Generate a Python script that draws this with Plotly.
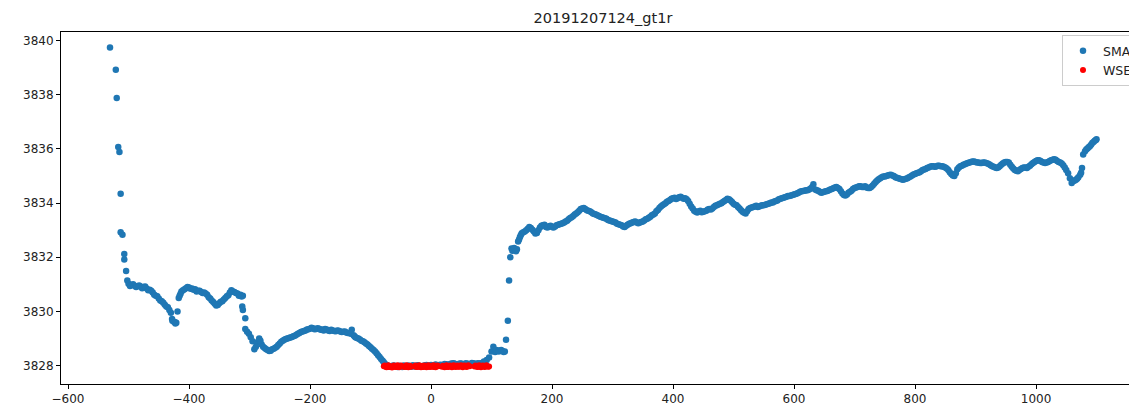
import plotly.graph_objects as go

TITLE = "20191207124_gt1r"

# SMA series, first pass of samples (along-track distance, elevation)
sma_x_a = [-530.6, -521, -519.5, -517, -515, -513, -513, -510, -507, -507, -504, -502,
           -500, -495, -490, -485, -480, -475, -470, -465, -460, -455, -450, -445, -440, -435,
           -430, -428, -425, -423, -421, -419,
           -417, -414, -410, -405, -400, -395, -390, -385, -380, -375, -370, -365, -360, -355,
           -350, -345, -340, -335, -330, -325, -320, -315, -311,
           -312, -311, -307, -307, -304, -301, -298, -295, -292, -288, -284, -280, -275, -270,
           -265, -260, -255, -250, -245, -240, -235, -230, -225, -220, -215, -210, -205, -200,
           -195, -190, -185, -180, -175, -170, -165, -160, -155, -150, -145, -140, -135, -131,
           -128, -125, -120, -115, -110, -105, -100, -95, -90, -85, -80, -76, -72,
           -70, -65, -60, -55, -50, -45, -40, -35, -30, -25, -20, -15, -10, -5, 0, 5, 10, 15,
           20, 25, 30, 35, 40, 45, 50, 55, 60, 65, 70, 75, 80, 85,
           88, 92, 96, 100, 103, 106, 110, 114, 118, 122, 124, 127, 129, 131, 133, 136, 139,
           142, 144, 147, 150, 155, 160, 165, 170, 175, 180, 185, 190, 195, 200, 205, 210, 215,
           220, 225, 230, 235, 240, 245, 250, 255, 260, 265, 270, 275, 280, 285, 290, 295, 300,
           305, 310, 315, 320, 325, 330, 335, 340, 345, 350, 355, 360, 365, 370, 375, 380, 385,
           390, 395, 400, 405, 410, 415, 420, 425, 430, 435, 440, 445, 450, 455, 460, 465, 470,
           475, 480, 485, 490, 495, 500, 505, 510, 515, 520, 525, 530, 535, 540, 545, 550, 555,
           560, 565, 570, 575, 580, 585, 590, 595, 600, 605, 610, 615, 620, 625, 630, 632, 635,
           640, 645, 650, 655, 660, 665, 670, 675, 680, 685, 690, 695, 700, 705, 710, 715, 720,
           725, 730, 735, 740, 745, 750, 755, 760, 765, 770, 775, 780, 785, 790, 795, 800, 805,
           810, 815, 820, 825, 830, 835, 840, 845, 850, 855, 860, 865, 870, 875, 880, 885, 890,
           895, 900, 905, 910, 915, 920, 925, 930, 935, 940, 945, 950, 955, 960, 965, 970, 975,
           980, 985, 990, 995, 1000, 1005, 1010, 1015, 1020, 1025, 1030, 1035, 1040, 1045, 1050,
           1053, 1056, 1059, 1062, 1066, 1070, 1073, 1076, 1078, 1081, 1085, 1089, 1093, 1097, 1100]
sma_y_a = [3839.75, 3838.93, 3837.88, 3836.07, 3835.89, 3834.35, 3832.92, 3832.83, 3832.12, 3831.92, 3831.49, 3831.14,
           3831.02, 3830.98, 3830.95, 3830.93, 3830.92, 3830.90, 3830.85, 3830.80, 3830.70, 3830.58, 3830.48, 3830.38, 3830.25, 3830.15,
           3829.95, 3829.72, 3829.62, 3829.60, 3829.58, 3830.00,
           3830.50, 3830.65, 3830.78, 3830.86, 3830.88, 3830.85, 3830.82, 3830.76, 3830.72, 3830.70, 3830.62, 3830.48, 3830.35, 3830.22,
           3830.30, 3830.38, 3830.50, 3830.60, 3830.78, 3830.72, 3830.66, 3830.62, 3830.58,
           3830.18, 3830.05, 3829.75, 3829.35, 3829.25, 3829.18, 3829.05, 3828.90, 3828.60, 3828.85, 3829.00, 3828.78, 3828.65, 3828.58,
           3828.55, 3828.62, 3828.70, 3828.82, 3828.92, 3828.98, 3829.02, 3829.06, 3829.10, 3829.18, 3829.24, 3829.28, 3829.33, 3829.36,
           3829.38, 3829.35, 3829.36, 3829.33, 3829.35, 3829.30, 3829.32, 3829.28, 3829.30, 3829.26, 3829.25, 3829.22, 3829.20, 3829.32,
           3829.12, 3829.05, 3829.00, 3828.92, 3828.86, 3828.78, 3828.68, 3828.58, 3828.46, 3828.32, 3828.18, 3828.06, 3828.00,
           3827.98, 3827.96, 3827.99, 3827.95, 3827.97, 3828.00, 3827.96, 3827.98, 3828.01, 3827.97, 3827.99, 3827.96, 3828.00, 3827.98, 3828.02, 3827.97, 3828.00, 3828.03,
           3827.99, 3828.05, 3828.02, 3828.08, 3828.06, 3828.04, 3828.08, 3828.03, 3828.07, 3828.05, 3828.09, 3828.06, 3828.08, 3828.10,
           3828.12, 3828.21, 3828.30, 3828.52, 3828.70, 3828.50, 3828.55, 3828.56, 3828.54, 3828.52, 3828.95, 3829.66, 3831.14, 3832.00, 3832.32, 3832.30, 3832.26,
           3832.30, 3832.58, 3832.75, 3832.89, 3832.95, 3833.05, 3833.08, 3832.95, 3832.90, 3833.10, 3833.18, 3833.12, 3833.15, 3833.12, 3833.14, 3833.20, 3833.24,
           3833.28, 3833.35, 3833.45, 3833.52, 3833.62, 3833.72, 3833.80, 3833.78, 3833.72, 3833.66, 3833.60, 3833.55, 3833.50, 3833.46, 3833.42, 3833.36, 3833.32,
           3833.28, 3833.22, 3833.18, 3833.12, 3833.20, 3833.26, 3833.30, 3833.28, 3833.28, 3833.32, 3833.40, 3833.46, 3833.55, 3833.62, 3833.75, 3833.88, 3833.96,
           3834.05, 3834.12, 3834.18, 3834.15, 3834.22, 3834.20, 3834.18, 3834.08, 3833.88, 3833.72, 3833.65, 3833.72, 3833.68, 3833.72, 3833.78, 3833.80, 3833.90,
           3833.95, 3834.00, 3834.08, 3834.16, 3834.10, 3833.98, 3833.92, 3833.80, 3833.68, 3833.62, 3833.78, 3833.84, 3833.88, 3833.86, 3833.90, 3833.92, 3833.96,
           3834.00, 3834.02, 3834.08, 3834.14, 3834.18, 3834.22, 3834.26, 3834.28, 3834.32, 3834.36, 3834.42, 3834.45, 3834.48, 3834.50, 3834.60, 3834.70, 3834.50,
           3834.46, 3834.38, 3834.42, 3834.45, 3834.50, 3834.55, 3834.60, 3834.52, 3834.36, 3834.28, 3834.38, 3834.46, 3834.56, 3834.60, 3834.62, 3834.60, 3834.58,
           3834.56, 3834.65, 3834.78, 3834.88, 3834.96, 3834.98, 3835.02, 3835.05, 3835.00, 3834.94, 3834.90, 3834.86, 3834.90, 3834.96, 3835.02, 3835.08, 3835.12,
           3835.18, 3835.24, 3835.30, 3835.34, 3835.36, 3835.35, 3835.38, 3835.36, 3835.32, 3835.22, 3835.08, 3835.00, 3835.25, 3835.36, 3835.42, 3835.46, 3835.50,
           3835.54, 3835.52, 3835.50, 3835.48, 3835.50, 3835.46, 3835.40, 3835.34, 3835.30, 3835.36, 3835.46, 3835.52, 3835.50, 3835.34, 3835.22, 3835.18, 3835.26,
           3835.32, 3835.30, 3835.38, 3835.48, 3835.56, 3835.58, 3835.52, 3835.48, 3835.52, 3835.58, 3835.62, 3835.56, 3835.50, 3835.40, 3835.22,
           3835.10, 3834.92, 3834.74, 3834.82, 3834.86, 3834.96, 3835.05, 3835.30, 3835.80, 3835.92, 3836.02, 3836.10, 3836.22, 3836.30, 3836.36]

# SMA series, interleaved second pass of samples
sma_x_b = [-497.5, -492.5, -487.5, -482.5, -477.5, -472.5, -467.5, -462.5, -457.5, -452.5, -447.5, -442.5,
           -437.5, -432.5, -427.5, -422.5,
           -415.5, -412.5, -407.5, -402.5, -397.5, -392.5, -387.5, -382.5, -377.5, -372.5, -367.5, -362.5,
           -357.5, -352.5, -347.5, -342.5, -337.5, -332.5, -327.5, -322.5, -317.5, -313,
           -289.5, -282, -277.5, -272.5, -267.5, -262.5, -257.5, -252.5, -247.5, -242.5, -237.5, -232.5,
           -227.5, -222.5, -217.5, -212.5, -207.5, -202.5, -197.5, -192.5, -187.5, -182.5, -177.5, -172.5,
           -167.5, -162.5, -157.5, -152.5, -147.5, -142.5, -137.5, -132.5, -126.5, -122.5, -117.5, -112.5,
           -107.5, -102.5, -97.5, -92.5, -87.5, -82.5, -78, -74,
           -67.5, -62.5, -57.5, -52.5, -47.5, -42.5, -37.5, -32.5, -27.5, -22.5, -17.5, -12.5, -7.5, -2.5,
           2.5, 7.5, 12.5, 17.5, 22.5, 27.5, 32.5, 37.5, 42.5, 47.5, 52.5, 57.5, 62.5, 67.5, 72.5, 77.5,
           82.5, 87.5,
           108, 112, 116, 120, 134.5, 137.5, 140.5, 145.5, 148.5, 152.5, 157.5, 162.5, 167.5, 172.5, 177.5,
           182.5, 187.5, 192.5, 197.5, 202.5, 207.5, 212.5, 217.5, 222.5, 227.5, 232.5, 237.5, 242.5, 247.5,
           252.5, 257.5, 262.5, 267.5, 272.5, 277.5, 282.5, 287.5, 292.5, 297.5, 302.5, 307.5, 312.5, 317.5,
           322.5, 327.5, 332.5, 337.5, 342.5, 347.5, 352.5, 357.5, 362.5, 367.5, 372.5, 377.5, 382.5, 387.5,
           392.5, 397.5, 402.5, 407.5, 412.5, 417.5, 422.5, 427.5, 432.5, 437.5, 442.5, 447.5, 452.5, 457.5,
           462.5, 467.5, 472.5, 477.5, 482.5, 487.5, 492.5, 497.5, 502.5, 507.5, 512.5, 517.5, 522.5, 527.5,
           532.5, 537.5, 542.5, 547.5, 552.5, 557.5, 562.5, 567.5, 572.5, 577.5, 582.5, 587.5, 592.5, 597.5,
           602.5, 607.5, 612.5, 617.5, 622.5, 627.5, 637.5, 642.5, 647.5, 652.5, 657.5, 662.5, 667.5, 672.5,
           677.5, 682.5, 687.5, 692.5, 697.5, 702.5, 707.5, 712.5, 717.5, 722.5, 727.5, 732.5, 737.5, 742.5,
           747.5, 752.5, 757.5, 762.5, 767.5, 772.5, 777.5, 782.5, 787.5, 792.5, 797.5, 802.5, 807.5, 812.5,
           817.5, 822.5, 827.5, 832.5, 837.5, 842.5, 847.5, 852.5, 857.5, 862.5, 867.5, 872.5, 877.5, 882.5,
           887.5, 892.5, 897.5, 902.5, 907.5, 912.5, 917.5, 922.5, 927.5, 932.5, 937.5, 942.5, 947.5, 952.5,
           957.5, 962.5, 967.5, 972.5, 977.5, 982.5, 987.5, 992.5, 997.5, 1002.5, 1007.5, 1012.5, 1017.5,
           1022.5, 1027.5, 1032.5, 1037.5, 1042.5, 1047.5, 1064, 1068, 1074.5, 1083, 1087, 1091, 1095, 1099]
sma_y_b = [3830.94, 3831.00, 3830.90, 3830.96, 3830.86, 3830.92, 3830.78, 3830.76, 3830.62, 3830.56, 3830.40, 3830.32,
           3830.18, 3830.05, 3829.66, 3829.55,
           3830.58, 3830.74, 3830.82, 3830.90, 3830.84, 3830.80, 3830.74, 3830.76, 3830.68, 3830.66, 3830.52, 3830.40,
           3830.28, 3830.24, 3830.36, 3830.44, 3830.56, 3830.70, 3830.74, 3830.68, 3830.58, 3830.55,
           3828.70, 3828.92, 3828.70, 3828.60, 3828.54, 3828.60, 3828.66, 3828.76, 3828.88, 3828.95, 3829.00, 3829.04,
           3829.08, 3829.14, 3829.20, 3829.26, 3829.30, 3829.34, 3829.40, 3829.34, 3829.38, 3829.32, 3829.30, 3829.33,
           3829.28, 3829.30, 3829.27, 3829.29, 3829.24, 3829.26, 3829.20, 3829.18, 3829.08, 3829.02, 3828.96, 3828.90,
           3828.82, 3828.72, 3828.62, 3828.52, 3828.38, 3828.24, 3828.12, 3828.03,
           3827.97, 3828.00, 3827.96, 3827.99, 3827.95, 3827.98, 3828.00, 3827.96, 3827.98, 3828.01, 3827.97, 3827.99, 3828.02, 3827.98,
           3828.00, 3828.04, 3827.99, 3828.02, 3828.06, 3828.03, 3828.07, 3828.09, 3828.05, 3828.08, 3828.04, 3828.09, 3828.06, 3828.10, 3828.07, 3828.09,
           3828.08, 3828.15,
           3828.58, 3828.52, 3828.58, 3828.50, 3832.24, 3832.34, 3832.22, 3832.66, 3832.82, 3832.92, 3833.00, 3833.12, 3833.02, 3832.88, 3833.00,
           3833.16, 3833.20, 3833.10, 3833.16, 3833.10, 3833.18, 3833.22, 3833.26, 3833.32, 3833.40, 3833.48, 3833.58, 3833.66, 3833.78,
           3833.82, 3833.74, 3833.70, 3833.62, 3833.58, 3833.52, 3833.48, 3833.44, 3833.38, 3833.34, 3833.30, 3833.24, 3833.20, 3833.14,
           3833.16, 3833.24, 3833.28, 3833.32, 3833.26, 3833.30, 3833.36, 3833.42, 3833.50, 3833.58, 3833.70, 3833.82, 3833.92, 3834.00,
           3834.08, 3834.16, 3834.20, 3834.18, 3834.24, 3834.16, 3834.14, 3833.98, 3833.80, 3833.68, 3833.70, 3833.66, 3833.70, 3833.76,
           3833.76, 3833.86, 3833.92, 3833.98, 3834.04, 3834.12, 3834.14, 3834.04, 3833.94, 3833.86, 3833.74, 3833.64, 3833.70, 3833.82,
           3833.86, 3833.90, 3833.88, 3833.92, 3833.94, 3833.98, 3834.02, 3834.06, 3834.10, 3834.16, 3834.20, 3834.24, 3834.26, 3834.30,
           3834.34, 3834.38, 3834.44, 3834.46, 3834.48, 3834.54, 3834.48, 3834.42, 3834.40, 3834.44, 3834.48, 3834.52, 3834.58, 3834.56,
           3834.44, 3834.30, 3834.32, 3834.42, 3834.52, 3834.58, 3834.62, 3834.60, 3834.62, 3834.56, 3834.60, 3834.72, 3834.84, 3834.92,
           3834.98, 3835.00, 3835.04, 3835.02, 3834.96, 3834.92, 3834.88, 3834.88, 3834.92, 3834.98, 3835.06, 3835.10, 3835.14, 3835.22,
           3835.26, 3835.32, 3835.36, 3835.34, 3835.38, 3835.36, 3835.34, 3835.28, 3835.14, 3835.02, 3835.10, 3835.32, 3835.38, 3835.44,
           3835.48, 3835.52, 3835.54, 3835.50, 3835.48, 3835.50, 3835.48, 3835.44, 3835.36, 3835.32, 3835.32, 3835.42, 3835.50, 3835.52,
           3835.42, 3835.28, 3835.20, 3835.22, 3835.30, 3835.32, 3835.34, 3835.44, 3835.52, 3835.58, 3835.56, 3835.50, 3835.50,
           3835.56, 3835.60, 3835.60, 3835.52, 3835.46, 3835.32, 3834.84, 3834.90, 3835.12, 3835.98, 3836.06, 3836.16, 3836.26, 3836.33]

# WSE series
wse_x_a = [-78, -75, -72, -69, -66, -63, -60, -57, -54, -51, -45, -42, -39, -36, -33, -27, -24,
           -21, -18, -15, -12, -9, -6, -3, 0, 3, 6, 9, 12, 18, 21, 24, 27, 30, 33, 36, 39, 42, 45,
           48, 51, 54, 57, 60, 64, 72, 75, 78, 81, 84, 87, 90, 93, 96]
wse_y_a = [3827.98, 3827.96, 3827.97, 3827.95, 3827.97, 3827.96, 3827.98, 3827.95, 3827.96, 3827.97,
           3827.96, 3827.98, 3827.95, 3827.97, 3827.96, 3827.97, 3827.95, 3827.96, 3827.98,
           3827.97, 3827.95, 3827.97, 3827.96, 3827.98, 3827.97, 3827.96, 3827.95, 3827.97, 3827.98,
           3827.96, 3827.97, 3827.95, 3827.96, 3827.98, 3827.97, 3827.96, 3827.98, 3827.97, 3827.96,
           3827.98, 3827.97, 3827.99, 3827.98, 3827.97, 3827.98, 3827.97, 3827.98, 3827.96, 3827.98,
           3827.97, 3827.98, 3827.97, 3827.98, 3827.97]
wse_x_b = [-76.5, -73.5, -70.5, -67.5, -64.5, -61.5, -58.5, -55.5, -52.5, -49.5, -43.5, -40.5, -37.5,
           -34.5, -25.5, -22.5, -19.5, -16.5, -13.5, -10.5, -7.5, -4.5, -1.5, 1.5, 4.5, 7.5, 10.5,
           19.5, 22.5, 25.5, 28.5, 31.5, 34.5, 37.5, 40.5, 43.5, 46.5, 49.5, 52.5, 55.5, 58.5, 61.5,
           73.5, 76.5, 79.5, 82.5, 85.5, 88.5, 91.5, 94.5]
wse_y_b = [3828.00, 3827.94, 3828.01, 3827.96, 3827.93, 3828.00, 3827.95, 3828.01, 3827.94, 3828.00,
           3827.95, 3828.01, 3827.94, 3827.99, 3828.00, 3827.96, 3828.01, 3827.94, 3827.99, 3828.00,
           3827.94, 3828.01, 3827.95, 3827.99, 3828.01, 3827.94, 3828.00, 3827.99, 3827.94, 3828.01,
           3827.95, 3828.00, 3827.94, 3828.01, 3827.95, 3828.00, 3827.96, 3828.01, 3827.94, 3828.00,
           3827.95, 3828.01, 3828.00, 3827.95, 3828.01, 3827.94, 3828.00, 3827.95, 3828.01, 3827.96]

x_ticks = [-600, -400, -200, 0, 200, 400, 600, 800, 1000]
y_ticks = [3828, 3830, 3832, 3834, 3836, 3838, 3840]

n_a = min(len(sma_x_a), len(sma_y_a))
n_b = min(len(sma_x_b), len(sma_y_b))
sma_x = sma_x_a[:n_a] + sma_x_b[:n_b]
sma_y = sma_y_a[:n_a] + sma_y_b[:n_b]
m_a = min(len(wse_x_a), len(wse_y_a))
m_b = min(len(wse_x_b), len(wse_y_b))
wse_x = wse_x_a[:m_a] + wse_x_b[:m_b]
wse_y = wse_y_a[:m_a] + wse_y_b[:m_b]

fig = go.Figure()
fig.add_trace(go.Scatter(x=sma_x, y=sma_y, mode="markers", name="SMA",
                         marker=dict(color="#1f77b4", size=6.5, line=dict(width=0))))
fig.add_trace(go.Scatter(x=wse_x, y=wse_y, mode="markers", name="WSE",
                         marker=dict(color="#ff0000", size=6, line=dict(width=0))))

font = "DejaVu Sans"
fig.update_layout(
    width=1129, height=408,
    margin=dict(l=61, r=0, t=32, b=24, pad=0, autoexpand=False),
    paper_bgcolor="white", plot_bgcolor="white",
    font=dict(family=font, size=12, color="#222"),
    title=dict(text=TITLE, x=0.5075, xref="paper", xanchor="center",
               y=1 - 18 / 408, yref="container", yanchor="middle",
               font=dict(family=font, size=14.5, color="#222")),
    showlegend=True,
    legend=dict(x=(1062 - 61) / 1068, y=1 - (35 - 32) / 352, xanchor="left", yanchor="top",
                bgcolor="rgba(255,255,255,0.8)", bordercolor="#cccccc", borderwidth=1,
                font=dict(family=font, size=12.5, color="#222"), itemsizing="trace",
                tracegroupgap=0),
    xaxis=dict(range=[-611.6, 1153.7], tickvals=x_ticks, ticktext=[str(v).replace("-", "\u2212") for v in x_ticks],
               showgrid=False, zeroline=False, showline=True, linecolor="black", linewidth=1,
               mirror=True, ticks="outside", ticklen=4, tickcolor="black", tickwidth=1),
    yaxis=dict(range=[3827.32, 3840.32], tickvals=y_ticks, ticktext=[str(v) for v in y_ticks],
               showgrid=False, zeroline=False, showline=True, linecolor="black", linewidth=1,
               mirror=False, ticks="outside", ticklen=4, tickcolor="black", tickwidth=1),
)

fig.write_html("out.html")
